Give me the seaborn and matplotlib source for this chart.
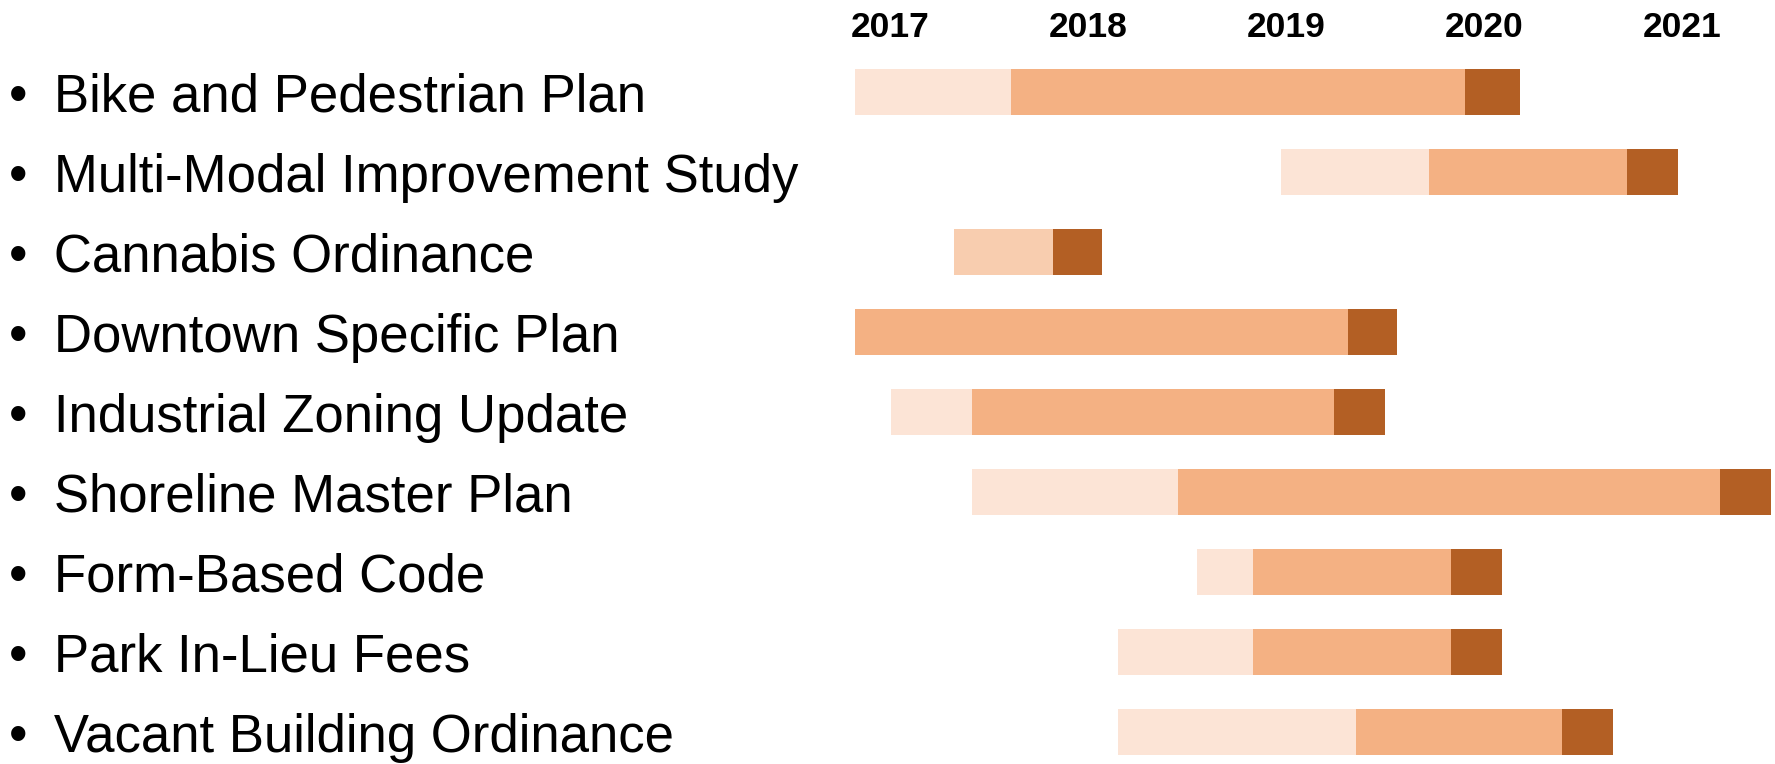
import matplotlib
matplotlib.use("Agg")
import matplotlib.pyplot as plt
import seaborn as sns

sns.set_theme(style="white")
plt.rcParams['font.family'] = ['Liberation Sans', 'DejaVu Sans']

# Projects, top to bottom
projects = ["Bike and Pedestrian Plan", "Multi-Modal Improvement Study", "Cannabis Ordinance",
            "Downtown Specific Plan", "Industrial Zoning Update", "Shoreline Master Plan",
            "Form-Based Code", "Park In-Lieu Fees", "Vacant Building Ordinance"]

# Phase boundaries in fractional years
start = [2017.32, 2019.47, 2017.82, 2017.32, 2017.50, 2017.91, 2019.05, 2018.65, 2018.65]
phase1_end = [2018.11, 2020.22, 2018.32, 2017.32, 2017.91, 2018.95, 2019.33, 2019.33, 2019.85]
phase2_end = [2020.40, 2021.22, 2018.32, 2019.81, 2019.74, 2021.69, 2020.33, 2020.33, 2020.89]
finish = [2020.68, 2021.48, 2018.57, 2020.06, 2020.00, 2021.95, 2020.59, 2020.59, 2021.15]

years = [2017, 2018, 2019, 2020, 2021]

phase_colors = ["#FCE4D6", "#F4B183", "#B35F24"]
phase1_override = {"Cannabis Ordinance": "#F8CDAF"}

fig = plt.figure(figsize=(17.75, 7.64), dpi=100)
ax = fig.add_axes([0.4732, 0.0, 0.5268, 0.9319])

rows = list(range(len(projects)))
c1 = [phase1_override.get(p, phase_colors[0]) for p in projects]
bar_h = 0.57

ax.barh(rows, [b - a for a, b in zip(start, phase1_end)], left=start,
        height=bar_h, color=c1, linewidth=0)
ax.barh(rows, [b - a for a, b in zip(phase1_end, phase2_end)], left=phase1_end,
        height=bar_h, color=phase_colors[1], linewidth=0)
ax.barh(rows, [b - a for a, b in zip(phase2_end, finish)], left=phase2_end,
        height=bar_h, color=phase_colors[2], linewidth=0)

ax.set_xlim(2017.244, 2021.968)
ax.set_ylim(len(projects) - 0.6, -0.5)

# year headers centred on each year
ax.xaxis.tick_top()
ax.set_xticks([y + 0.5 for y in years])
ax.set_xticklabels([str(y) for y in years], fontsize=25.5, fontweight="bold", color="black")
ax.tick_params(axis="x", length=0, pad=6)

ax.set_yticks(rows)
ax.set_yticklabels(["\u2022\u2002" + p for p in projects], fontsize=38, ha="left", color="black")
ax.tick_params(axis="y", length=0, pad=598)

sns.despine(ax=ax, left=True, bottom=True, top=True, right=True)
ax.grid(False)

fig.savefig("out.png", dpi=100, facecolor="white")
